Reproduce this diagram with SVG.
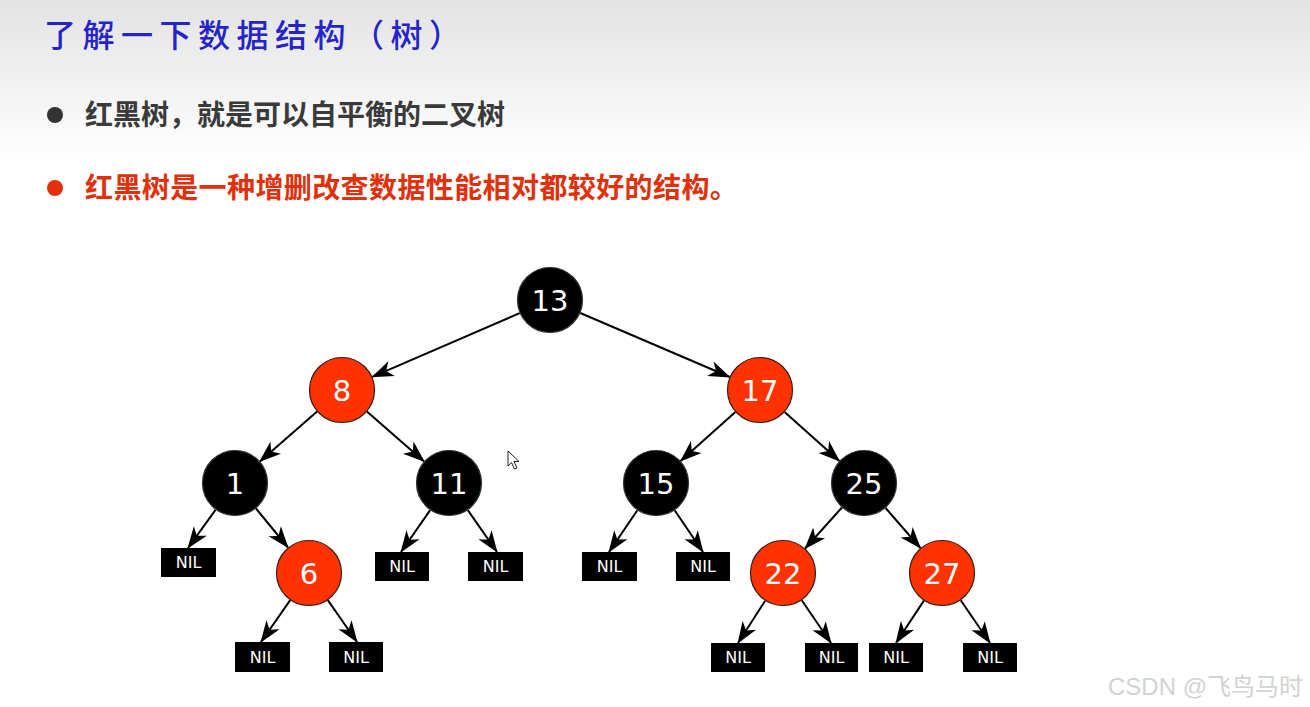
<svg xmlns="http://www.w3.org/2000/svg" width="1310" height="707" viewBox="0 0 1310 707">
<defs>
<linearGradient id="hdr" x1="0" y1="0" x2="0" y2="1">
<stop offset="0" stop-color="#e3e3e3"/>
<stop offset="1" stop-color="#ffffff"/>
</linearGradient>
<marker id="arr" markerUnits="userSpaceOnUse" markerWidth="24" markerHeight="18" viewBox="-22 -9 24 18" refX="0" refY="0" orient="auto">
<path d="M1,0 L-21,-8 L-15,0 L-21,8 Z" fill="#000"/>
</marker>
<style>
.title{font-family:"Noto Sans CJK SC",sans-serif;font-weight:500;font-size:32px;fill:#2424c8;letter-spacing:6.5px}
.b1{font-family:"Noto Sans CJK SC",sans-serif;font-weight:bold;font-size:28px;fill:#3a3a3a}
.b2{font-family:"Noto Sans CJK SC",sans-serif;font-weight:bold;font-size:28px;fill:#e0300c;letter-spacing:0.4px}
.blk{fill:#000;stroke:#333;stroke-width:1.2}
.red{fill:#ff3300;stroke:#3a1a10;stroke-width:1.2}
.num{font-family:"DejaVu Sans",sans-serif;font-size:29px;fill:#fff;text-anchor:middle}
.nilr{fill:#000}
.nil{font-family:"DejaVu Sans",sans-serif;font-size:16px;fill:#fff;text-anchor:middle}
.edge{stroke:#000;stroke-width:2;fill:none;marker-end:url(#arr)}
.wm{font-family:"Liberation Sans","Noto Sans CJK SC",sans-serif;font-size:24px;fill:#d2d2d2}
</style>
</defs>
<rect x="0" y="0" width="1310" height="707" fill="#ffffff"/>
<rect x="0" y="0" width="1310" height="160" fill="url(#hdr)"/>

<g id="title"><text class="title" x="44" y="47">了解一下数据结构（树）</text></g>
<g id="bullet1">
<circle cx="55" cy="115" r="8" fill="#333"/>
<text class="b1" x="85" y="125">红黑树，就是可以自平衡的二叉树</text>
</g>
<g id="bullet2">
<circle cx="55" cy="188" r="8" fill="#e0300c"/>
<text class="b2" x="85" y="198">红黑树是一种增删改查数据性能相对都较好的结构。</text>
</g>

<g id="connectors">
<line class="edge" x1="519.7" y1="313.1" x2="372.3" y2="376.9"/>
<line class="edge" x1="580.3" y1="313.0" x2="729.7" y2="377.0"/>
<line class="edge" x1="317.1" y1="411.6" x2="259.9" y2="461.4"/>
<line class="edge" x1="366.9" y1="411.6" x2="424.1" y2="461.4"/>
<line class="edge" x1="735.4" y1="412.0" x2="680.6" y2="461.0"/>
<line class="edge" x1="784.6" y1="412.0" x2="839.4" y2="461.0"/>
<line class="edge" x1="215.7" y1="509.7" x2="188" y2="548"/>
<line class="edge" x1="256.0" y1="508.5" x2="288.0" y2="547.5"/>
<line class="edge" x1="430.2" y1="510.1" x2="401" y2="552"/>
<line class="edge" x1="467.8" y1="510.1" x2="497" y2="552"/>
<line class="edge" x1="290.2" y1="600.1" x2="261" y2="642"/>
<line class="edge" x1="327.8" y1="600.1" x2="357" y2="642"/>
<line class="edge" x1="637.4" y1="510.3" x2="609" y2="552"/>
<line class="edge" x1="674.6" y1="510.3" x2="703" y2="552"/>
<line class="edge" x1="841.9" y1="507.5" x2="805.1" y2="548.5"/>
<line class="edge" x1="885.6" y1="508.0" x2="920.4" y2="548.0"/>
<line class="edge" x1="765.1" y1="600.8" x2="738" y2="643"/>
<line class="edge" x1="801.7" y1="600.2" x2="831" y2="643"/>
<line class="edge" x1="923.9" y1="600.6" x2="896" y2="643"/>
<line class="edge" x1="960.7" y1="600.2" x2="990" y2="643"/>
</g>

<g id="n13"><circle class="blk" cx="550" cy="300" r="32.5"/><text class="num" x="550" y="311">13</text></g>
<g id="n8"><circle class="red" cx="342" cy="390" r="32.5"/><text class="num" x="342" y="401">8</text></g>
<g id="n17"><circle class="red" cx="760" cy="390" r="32.5"/><text class="num" x="760" y="401">17</text></g>
<g id="n1"><circle class="blk" cx="235" cy="483" r="32.5"/><text class="num" x="235" y="494">1</text></g>
<g id="n11"><circle class="blk" cx="449" cy="483" r="32.5"/><text class="num" x="449" y="494">11</text></g>
<g id="n15"><circle class="blk" cx="656" cy="483" r="32.5"/><text class="num" x="656" y="494">15</text></g>
<g id="n25"><circle class="blk" cx="864" cy="483" r="32.5"/><text class="num" x="864" y="494">25</text></g>
<g id="n6"><circle class="red" cx="309" cy="573" r="32.5"/><text class="num" x="309" y="584">6</text></g>
<g id="n22"><circle class="red" cx="783" cy="573" r="32.5"/><text class="num" x="783" y="584">22</text></g>
<g id="n27"><circle class="red" cx="942" cy="573" r="32.5"/><text class="num" x="942" y="584">27</text></g>

<g id="nil1"><rect class="nilr" x="161" y="548" width="55" height="29"/><text class="nil" x="188.5" y="568">NIL</text></g>
<g id="nil2"><rect class="nilr" x="375" y="552" width="54" height="29"/><text class="nil" x="402" y="572">NIL</text></g>
<g id="nil3"><rect class="nilr" x="468" y="552" width="55" height="29"/><text class="nil" x="495.5" y="572">NIL</text></g>
<g id="nil4"><rect class="nilr" x="235" y="642" width="55" height="30"/><text class="nil" x="262.5" y="663">NIL</text></g>
<g id="nil5"><rect class="nilr" x="329" y="642" width="54" height="30"/><text class="nil" x="356" y="663">NIL</text></g>
<g id="nil6"><rect class="nilr" x="582" y="552" width="55" height="29"/><text class="nil" x="609.5" y="572">NIL</text></g>
<g id="nil7"><rect class="nilr" x="676" y="552" width="54" height="29"/><text class="nil" x="703" y="572">NIL</text></g>
<g id="nil8"><rect class="nilr" x="711" y="643" width="54" height="29"/><text class="nil" x="738" y="663">NIL</text></g>
<g id="nil9"><rect class="nilr" x="805" y="643" width="53" height="29"/><text class="nil" x="831.5" y="663">NIL</text></g>
<g id="nil10"><rect class="nilr" x="869" y="643" width="54" height="29"/><text class="nil" x="896" y="663">NIL</text></g>
<g id="nil11"><rect class="nilr" x="963" y="643" width="54" height="29"/><text class="nil" x="990" y="663">NIL</text></g>

<g id="cursor"><path d="M508,451 L508,466 L511.5,462.5 L514.5,469 L517,468 L514,461.5 L519,461.5 Z" fill="#fff" stroke="#222" stroke-width="1"/></g>

<g id="watermark"><text class="wm" x="1108" y="695">CSDN @飞鸟马时</text></g>
</svg>
